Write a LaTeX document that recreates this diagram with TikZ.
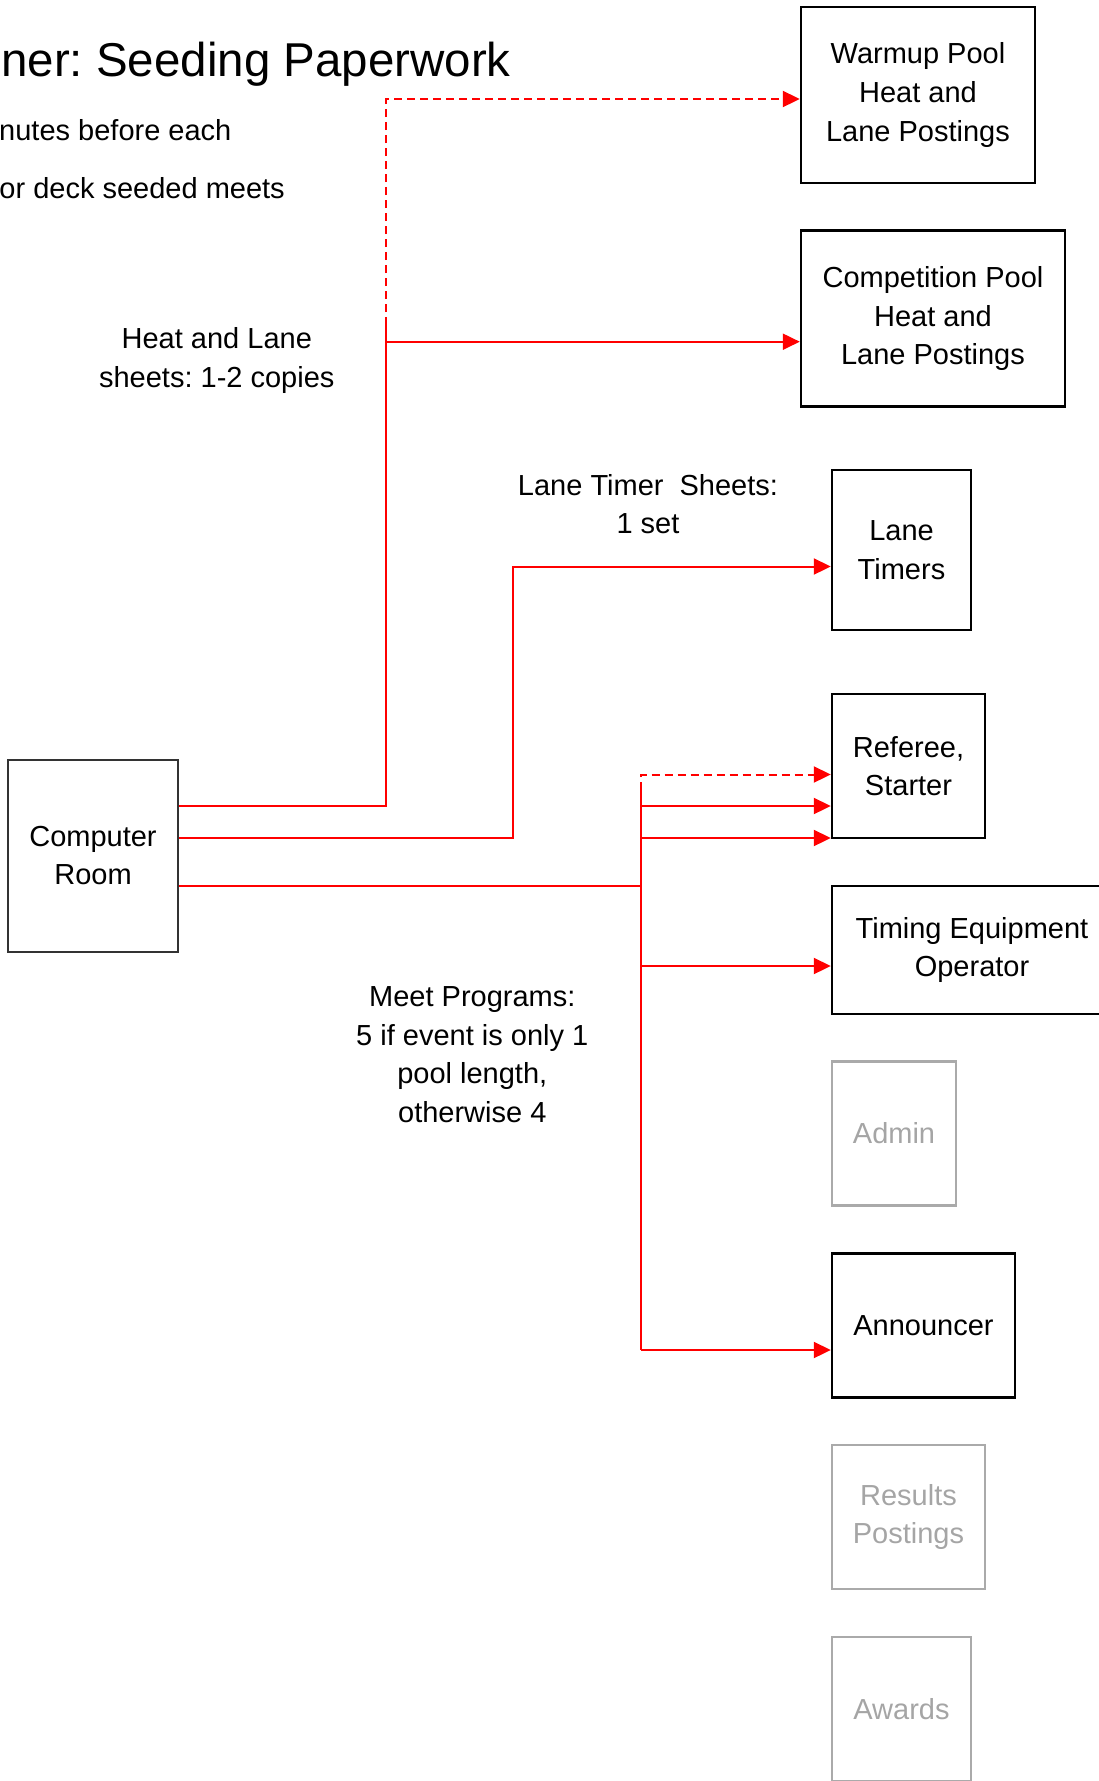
\documentclass[tikz,border=0pt]{standalone}
\usepackage{fontspec}
\setmainfont{Liberation Sans}
\usetikzlibrary{arrows.meta}
\definecolor{lred}{RGB}{255,0,0}
\definecolor{lgray}{RGB}{170,170,170}
\definecolor{ltext}{RGB}{165,165,165}
\frenchspacing
\begin{document}
\begin{tikzpicture}[x=1pt,y=-1pt]
\tikzset{
 bx/.style={draw=black, line width=2.4pt, align=center, inner sep=0pt, font=\fontsize{29}{38.6}\selectfont},
 gbx/.style={bx, draw=lgray, text=ltext},
 lbl/.style={align=center, inner sep=0pt, font=\fontsize{29}{38.6}\selectfont},
 rl/.style={draw=lred, line width=2pt},
 arr/.style={-{Triangle[length=17pt,width=16pt]}},
 dsh/.style={dash pattern=on 8pt off 5pt},
}
\useasboundingbox (0,0) rectangle (1099,1781);
% boxes
\node[bx, minimum width=234pt, minimum height=176pt] (warm) at (918,95) {Warmup Pool\\Heat and\\Lane Postings};
\node[bx, minimum width=264pt, minimum height=176pt] (comp) at (933,318.5) {Competition Pool\\Heat and\\Lane Postings};
\node[bx, minimum width=139pt, minimum height=160pt] (lt) at (901.5,550) {Lane\\Timers};
\node[bx, minimum width=153pt, minimum height=144pt] (ref) at (908.5,766) {Referee,\\Starter};
\node[bx, minimum width=280pt, minimum height=128pt] (tim) at (972,950) {Timing Equipment\\Operator};
\node[gbx, minimum width=124pt, minimum height=144pt] (adm) at (894,1133.6) {Admin};
\node[bx, minimum width=183pt, minimum height=144pt] (ann) at (923.5,1325.5) {Announcer};
\node[gbx, minimum width=153pt, minimum height=144pt] (res) at (908.5,1517) {Results\\Postings};
\node[gbx, minimum width=139pt, minimum height=144pt] (awd) at (901.5,1709) {Awards};
\node[bx, draw=black!80, line width=2pt, minimum width=170pt, minimum height=192pt] (cr) at (93,855.5) {Computer\\Room};
% texts
\node[anchor=base east, inner sep=0pt, font=\fontsize{47.5}{56}\selectfont] (title) at (511,76) {ner: Seeding Paperwork};
\node[lbl, anchor=base east] (n1) at (231.6,140) {nutes before each};
\node[lbl, anchor=base east] (n2) at (285,198) {or deck seeded meets};
\node[lbl] (l1) at (216.8,360.5) {Heat and Lane\\sheets: 1-2 copies};
\node[lbl] (l2) at (648,504) {Lane Timer\ \ Sheets:\\1 set};
\node[lbl] (l3) at (472.3,1054.7) {Meet Programs:\\5 if event is only 1\\pool length,\\otherwise 4};
% coordinates
\coordinate (ya) at (0,806);
\coordinate (yb) at (0,838);
\coordinate (yc) at (0,885.5);
\coordinate (yd) at (0,966);
\coordinate (ja) at (386,341.7);
\coordinate (jt) at (386,325);
\coordinate (jw) at (386,99);
\coordinate (jb) at (513,566.5);
\coordinate (tt) at (641,774.5);
\coordinate (ts) at (641,790);
\coordinate (tb) at (641,1350);
% connectors
\draw[rl] (cr.east |- ya) -| (jt);
\draw[rl,arr] (ja) -- (comp.west |- ja);
\draw[rl,dsh,arr] (jt) |- (warm.west |- jw);
\draw[rl,arr] (cr.east |- yb) -| (jb) -- (lt.west |- jb);
\draw[rl] (cr.east |- yc) -- (ts |- yc);
\draw[rl] (ts) -- (tb);
\draw[rl,dsh,arr] (ts) -- (tt) -- (ref.west |- tt);
\draw[rl,arr] (ts |- ya) -- (ref.west |- ya);
\draw[rl,arr] (ts |- yb) -- (ref.west |- yb);
\draw[rl,arr] (ts |- yd) -- (tim.west |- yd);
\draw[rl,arr] (tb) -- (ann.west |- tb);
\end{tikzpicture}
\end{document}
